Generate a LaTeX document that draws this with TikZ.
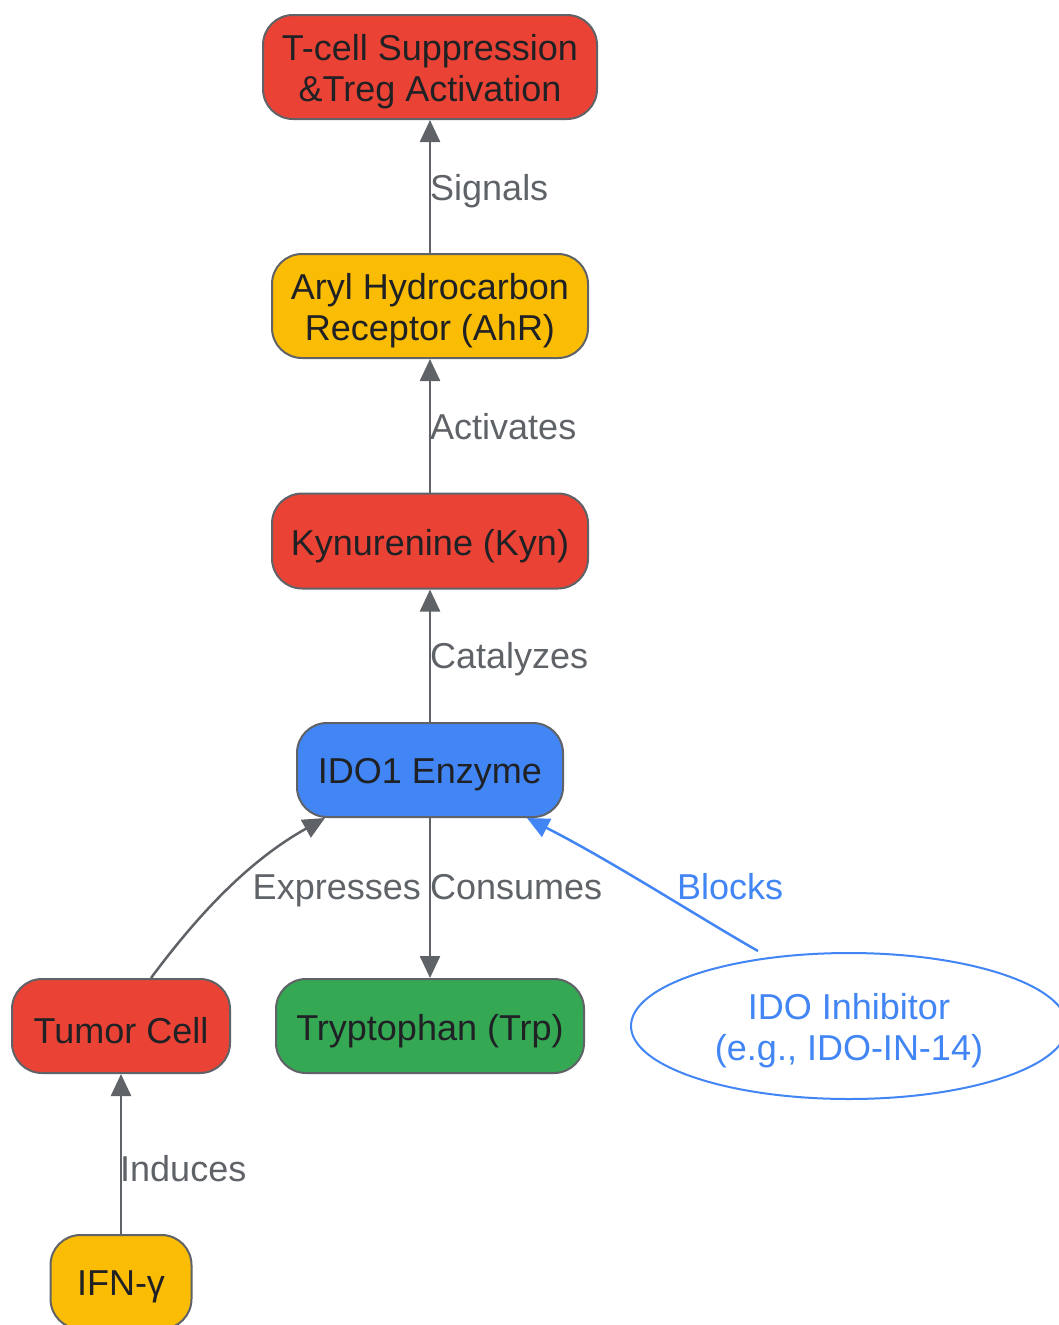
\documentclass[tikz,border=0pt]{standalone}
\usepackage{fontspec}
\setmainfont{Liberation Sans}
\usetikzlibrary{arrows.meta,shapes.geometric,calc}
\definecolor{gred}{HTML}{EA4335}
\definecolor{gyellow}{HTML}{FBBC04}
\definecolor{gblue}{HTML}{4285F4}
\definecolor{ggreen}{HTML}{34A853}
\definecolor{ggray}{HTML}{5F6368}
\definecolor{gtext}{HTML}{202124}
\newcommand\lowr[1]{\raisebox{-5pt}[\height][\depth]{#1}}
\begin{document}
\begin{tikzpicture}[x=1pt,y=-1pt,
  box/.style={draw=ggray,line width=2pt,rounded corners=30pt,inner sep=0pt,align=center,text=gtext,font=\fontsize{36}{41}\selectfont},
  conn/.style={draw=ggray,line width=2.5pt,-{Triangle[length=22pt,width=20pt]}},
  lbl/.style={text=ggray,font=\fontsize{36}{41}\selectfont,inner sep=0pt}]
\useasboundingbox (0,0) rectangle (1059,1325);
\node[box,fill=gred,minimum width=334pt,minimum height=104pt] (tcell) at (430,67) {\lowr{T-cell Suppression}\\\lowr{\&Treg Activation}};
\node[box,fill=gyellow,minimum width=316pt,minimum height=104pt] (ahr) at (430,306) {\lowr{Aryl Hydrocarbon}\\\lowr{Receptor (AhR)}};
\node[box,fill=gred,minimum width=316pt,minimum height=95pt] (kyn) at (430,541) {\lowr{Kynurenine (Kyn)}};
\node[box,fill=gblue,minimum width=266pt,minimum height=94pt] (ido) at (430,770) {\lowr{IDO1 Enzyme}};
\node[box,fill=gred,minimum width=218pt,minimum height=94pt] (tumor) at (121,1026) {\lowr{Tumor Cell}};
\node[box,fill=ggreen,minimum width=308pt,minimum height=94pt] (trp) at (430,1026) {\lowr{Tryptophan (Trp)}};
\node[draw=gblue,line width=2pt,fill=white,ellipse,minimum width=436pt,minimum height=146pt,inner sep=0pt,align=center,text=gblue,font=\fontsize{36}{41}\selectfont] (inh) at (849,1026) {\lowr{IDO Inhibitor}\\\lowr{(e.g., IDO-IN-14)}};
\node[box,fill=gyellow,minimum width=141pt,minimum height=94pt] (ifn) at (121,1282) {\lowr{IFN-γ}};
\draw[conn] (ahr) -- (tcell);
\node[lbl,anchor=base west] (lsig) at (430,200) {Signals};
\draw[conn] (kyn) -- (ahr);
\node[lbl,anchor=base west] (lact) at (430,439) {Activates};
\draw[conn] (ido) -- (kyn);
\node[lbl,anchor=base west] (lcat) at (430,668) {Catalyzes};
\draw[conn] (ido) -- (trp);
\node[lbl,anchor=base west] (lcon) at (430,899) {Consumes};
\draw[conn] (ifn) -- (tumor);
\node[lbl,anchor=base west] (lind) at (120,1181) {Induces};
\draw[conn] ([xshift=30pt]tumor.north) .. controls (200,912) and (250,860) .. ([xshift=-105pt]ido.south);
\node[lbl,anchor=base east] (lexp) at (421,899) {Expresses};
\draw[draw=gblue,line width=2.5pt,-{Triangle[length=22pt,width=20pt]}] (inh.north) ++(-91pt,1pt) coordinate (bs) (bs) .. controls (700,918) and (610,860) .. ([xshift=97pt]ido.south);
\node[lbl,text=gblue,anchor=base west] (lblk) at (677,899) {Blocks};
\end{tikzpicture}
\end{document}
